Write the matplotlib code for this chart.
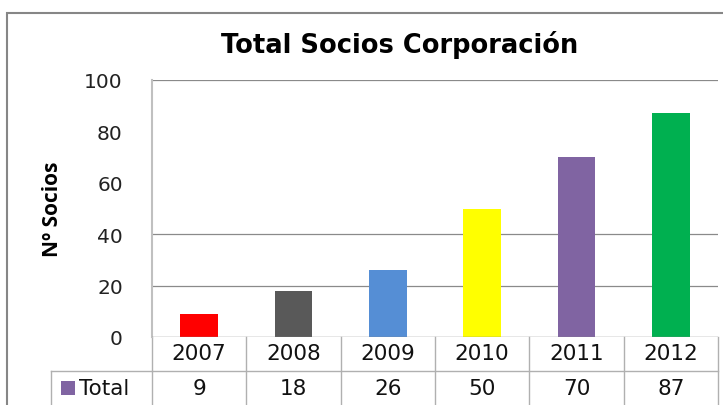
import matplotlib
matplotlib.use("Agg")
import matplotlib.pyplot as plt
from matplotlib.transforms import blended_transform_factory
from matplotlib.patches import Rectangle
from matplotlib.lines import Line2D

years = ["2007", "2008", "2009", "2010", "2011", "2012"]
totals = [9, 18, 26, 50, 70, 87]
colors = ["#ff0000", "#595959", "#558ed5", "#ffff00", "#8064a2", "#00b050"]
series_name = "Total"
title = "Total Socios Corporación"
ylabel = "Nº Socios"
yticks = [0, 20, 40, 60, 80, 100]
grid_levels = [20, 40, 100]

W, H = 723, 406
fig = plt.figure(figsize=(W / 100, H / 100), dpi=100)
fig.patch.set_facecolor("white")

# outer chart border
fig.add_artist(Rectangle((7 / W, -0.1), 2.0, (406 - 14) / H + 0.1, transform=fig.transFigure,
                         fill=False, edgecolor="#868686", linewidth=1.5))

left, right, top, bottom = 152, 718, 81, 338
ax = fig.add_axes([left / W, (H - bottom) / H, (right - left) / W, (bottom - top) / H])
x = list(range(len(years)))
ax.bar(x, totals, width=0.4, color=colors, zorder=3)
ax.set_xlim(-0.5, len(years) - 0.5)
ax.set_ylim(0, 100)
ax.set_yticks(yticks)
ax.set_yticklabels([str(t) for t in yticks], fontsize=14.5, family="DejaVu Sans", color="#222222")
ax.tick_params(axis="y", length=0, pad=21)
ax.set_xticks([])
for s in ["top", "right", "bottom"]:
    ax.spines[s].set_visible(False)
ax.spines["left"].set_color("#c0c0c0")
ax.spines["left"].set_linewidth(1.5)
for g in grid_levels:
    ax.axhline(g, color="#8a8a8a", linewidth=0.9, zorder=1)
ax.axhline(0, color="#868686", linewidth=1.0, zorder=4)

ax.set_ylabel(ylabel, fontsize=15, fontweight="bold", family="Open Sans")
ax.yaxis.set_label_coords(-(left - 63) / (right - left), 0.5)

fig.text(400 / W, (H - 45) / H, title, ha="center", va="center", fontsize=18.5,
         fontweight="bold", family="DejaVu Sans")

# data table below the axis
tr = blended_transform_factory(ax.transData, ax.transAxes)
ph = bottom - top
row1 = -(372 - bottom) / ph
row2 = -(420 - bottom) / ph
lc = "#b0b0b0"
for i in range(len(years) + 1):
    ax.add_line(Line2D([i - 0.5, i - 0.5], [0, row2], transform=tr, color=lc, lw=1.0, clip_on=False))
ax.add_line(Line2D([-0.5, len(years) - 0.5], [row1, row1], transform=tr, color=lc, lw=1.0, clip_on=False))
fig.add_artist(Line2D([51 / W, left / W], [(H - 372) / H] * 2, transform=fig.transFigure, color=lc, lw=1.0))
fig.add_artist(Line2D([51 / W, 51 / W], [(H - 372) / H, 0], transform=fig.transFigure, color=lc, lw=1.0))
for i, (yr, v) in enumerate(zip(years, totals)):
    ax.text(i, -(354 - bottom) / ph, yr, transform=tr, ha="center", va="center", fontsize=15.5,
            family="DejaVu Sans", color="#111111", clip_on=False)
    ax.text(i, -(389 - bottom) / ph, str(v), transform=tr, ha="center", va="center", fontsize=15.5,
            family="DejaVu Sans", color="#111111", clip_on=False)
fig.add_artist(Rectangle((61 / W, (H - 396) / H), 14 / W, 14 / H, transform=fig.transFigure,
                         facecolor=colors[4], edgecolor="none"))
fig.text(79 / W, (H - 389) / H, series_name, ha="left", va="center", fontsize=15.5,
         family="DejaVu Sans", color="#111111")

fig.savefig("out.png", dpi=100, facecolor="white")
